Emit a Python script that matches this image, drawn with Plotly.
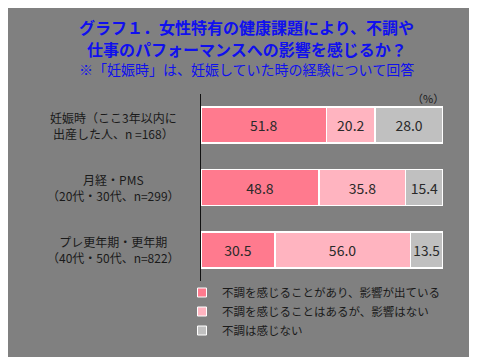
import plotly.graph_objects as go

categories = ["妊娠時", "月経・PMS", "プレ更年期・更年期"]
cat_labels = ["妊娠時（ここ3年以内に<br>出産した人、n =168）",
              "月経・PMS<br>（20代・30代、n=299）",
              "プレ更年期・更年期<br>（40代・50代、n=822）"]
series_names = ["不調を感じることがあり、影響が出ている",
                "不調を感じることはあるが、影響はない",
                "不調は感じない"]
affected = [51.8, 48.8, 30.5]
no_effect = [20.2, 35.8, 56.0]
no_issue = [28.0, 15.4, 13.5]

colors = ["#FF7A8E", "#FFB4C0", "#C0C0C0"]
FONT = "Noto Sans CJK JP"

fig = go.Figure()
for name, vals, col in zip(series_names, [affected, no_effect, no_issue], colors):
    fig.add_trace(go.Bar(
        y=categories, x=vals, name=name, orientation="h", showlegend=False,
        marker=dict(color=col, line=dict(color="white", width=1.5)),
        text=[f"{v:.1f}" for v in vals], textposition="inside",
        insidetextanchor="middle", textangle=0,
        textfont=dict(family=FONT, size=14, color="#2a2a2a"),
        width=0.58,
    ))
# legend entries (small square swatches)
for name, col in zip(series_names, colors):
    fig.add_trace(go.Scatter(
        x=[None], y=[None], mode="markers", name=name, showlegend=True,
        marker=dict(symbol="square", size=9, color=col,
                    line=dict(color="white", width=1)),
    ))

W, H = 477, 357
fig.update_layout(
    width=W, height=H, barmode="stack",
    paper_bgcolor="#808080", plot_bgcolor="#808080",
    margin=dict(l=0, r=0, t=0, b=0),
    font=dict(family=FONT, size=12, color="#1a1a1a"),
    xaxis=dict(domain=[193 / W, 435 / W], range=[0, 100], showgrid=False,
               zeroline=False, showticklabels=False, showline=False),
    yaxis=dict(domain=[1 - 273 / H, 1 - 86 / H], autorange="reversed",
               showticklabels=False, showgrid=False, zeroline=False,
               showline=True, linecolor="#111111", linewidth=1.2),
    legend=dict(x=174 / W, y=1 - 270 / H, xanchor="left", yanchor="top",
                font=dict(family=FONT, size=11.5, color="#1a1a1a"),
                traceorder="normal", itemwidth=30, tracegroupgap=0,
                bgcolor="rgba(0,0,0,0)"),
    showlegend=True,
)

for lab, cat in zip(cat_labels, categories):
    fig.add_annotation(x=105 / W, xref="paper", y=cat, yref="y", text=lab,
                       showarrow=False, xanchor="center", yanchor="middle",
                       align="center",
                       font=dict(family=FONT, size=12, color="#1a1a1a"))

fig.add_annotation(x=420 / W, y=1 - 90 / H, xref="paper", yref="paper",
                   text="（%）", showarrow=False, xanchor="center", yanchor="middle",
                   font=dict(family=FONT, size=11, color="#1a1a1a"))

titles = [("<b>グラフ１．女性特有の健康課題により、不調や</b>", 19, 16),
          ("<b>仕事のパフォーマンスへの影響を感じるか？</b>", 41, 16),
          ("※「妊娠時」は、妊娠していた時の経験について回答", 61, 14)]
for t, yy, sz in titles:
    fig.add_annotation(x=0.5, y=1 - yy / H, xref="paper", yref="paper", text=t,
                       showarrow=False, xanchor="center", yanchor="middle",
                       font=dict(family=FONT, size=sz, color="#1010EE"))

fig.write_html("out.html")
